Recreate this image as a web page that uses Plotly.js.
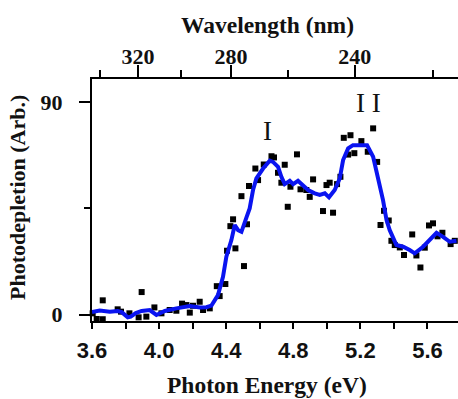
<!DOCTYPE html>
<html>
<head>
<meta charset="utf-8">
<script src="https://cdn.plot.ly/plotly-3.0.1.min.js"></script>
<style>html,body{margin:0;padding:0;background:#fff}#chart{width:458px;height:399px}</style>
</head>
<body>
<div id="chart"></div>
<script>
// measured points (photon energy in eV, photodepletion in arb. units)
const energy_eV = [3.604,3.628,3.664,3.664,3.753,3.773,3.823,3.878,3.896,3.924,3.972,4.014,4.063,4.103,4.137,4.163,4.183,4.202,4.242,4.262,4.302,4.344,4.361,4.395,4.405,4.425,4.441,4.455,4.491,4.506,4.524,4.536,4.574,4.590,4.624,4.670,4.685,4.709,4.729,4.749,4.767,4.783,4.822,4.843,4.878,4.898,4.918,4.977,4.998,5.017,5.037,5.061,5.081,5.101,5.127,5.141,5.164,5.206,5.244,5.276,5.300,5.320,5.341,5.369,5.385,5.405,5.435,5.460,5.509,5.534,5.558,5.584,5.609,5.633,5.660,5.689,5.738,5.763];
const photodepletion = [0.5,-1.9,6.0,-2.0,2.2,1.2,0.5,-1.2,9.5,-0.9,3.0,0.5,1.9,1.6,4.6,4.0,0.8,3.7,5.4,1.9,2.6,12.0,7.8,12.9,27.0,37.4,40.3,28.0,50.1,20.5,38.2,54.4,61.8,56.9,63.5,67.0,66.5,60.0,55.8,63.4,45.6,54.1,67.8,53.0,52.7,49.8,57.2,43.8,54.8,55.8,43.1,55.2,58.3,74.8,67.7,75.9,68.3,73.4,68.9,78.8,64.6,37.9,43.9,39.8,31.2,29.4,28.4,25.2,33.9,25.0,19.9,28.3,37.7,38.6,33.1,34.6,29.8,31.2];
// smoothed curve
const smooth_eV = [3.600,3.646,3.706,3.753,3.777,3.813,3.831,3.861,3.896,3.944,3.984,4.034,4.103,4.183,4.243,4.282,4.312,4.351,4.381,4.401,4.431,4.451,4.471,4.491,4.521,4.540,4.560,4.580,4.620,4.660,4.679,4.709,4.729,4.749,4.779,4.799,4.828,4.858,4.888,4.928,4.958,4.988,5.013,5.047,5.077,5.097,5.127,5.156,5.196,5.240,5.276,5.305,5.335,5.356,5.375,5.415,5.455,5.494,5.524,5.574,5.614,5.654,5.693,5.733,5.773];
const smooth_val = [1.1,1.7,1.2,1.5,1.0,-1.2,-0.9,0.6,1.5,1.9,-0.2,1.5,2.6,3.6,3.0,3.1,3.8,8.2,16.0,24.5,31.5,37.9,35.7,35.0,41.1,44.9,52.7,57.6,61.8,65.1,64.6,62.5,58.3,55.2,56.6,55.2,56.6,54.4,52.7,51.3,50.6,51.3,49.6,52.7,57.6,65.4,70.3,71.7,71.7,71.7,66.8,58.3,48.4,40.0,35.7,29.4,28.7,27.3,25.9,28.7,31.5,34.6,32.9,30.8,31.2];
// axis ticks
const wavelength_major = [320, 280, 240];
const wavelength_minor = [340, 300, 260, 220];
const yTicks = [0, 90];
const yMinor = [45];
const peakLabels = ["I", "I I"];
const peakLabel_eV = [4.649, 5.25];
const peakLabel_val = [77.5, 89.5];

const hc = 1239.84;
const xr = [3.6, 5.782];
const yr = [-2.75, 99.7];
const serif = "Liberation Serif, Times New Roman, serif";
const sans = "Liberation Sans, Arial, sans-serif";

const traces = [
  {x: energy_eV, y: photodepletion, mode: 'markers', type: 'scatter',
   marker: {symbol: 'square', size: 6, color: '#000'}, hoverinfo: 'skip', cliponaxis: false},
  {x: smooth_eV, y: smooth_val, mode: 'lines', type: 'scatter',
   line: {color: '#0a14f0', width: 4}, hoverinfo: 'skip'},
  {x: smooth_eV, y: smooth_val, xaxis: 'x2', mode: 'lines', type: 'scatter',
   line: {color: 'rgba(0,0,0,0)', width: 0}, hoverinfo: 'skip'}
];

const annotations = [
  {text: 'Wavelength (nm)', xref: 'paper', yref: 'paper', x: (267.5-92)/366, y: (321-25)/242,
   showarrow: false, xanchor: 'center', yanchor: 'middle', font: {family: serif, size: 23.5, weight: 'bold', color: '#111'}},
  {text: 'Photon Energy (eV)', xref: 'paper', yref: 'paper', x: (267-92)/366, y: (321-385)/242,
   showarrow: false, xanchor: 'center', yanchor: 'middle', font: {family: serif, size: 23.5, weight: 'bold', color: '#111'}},
  {text: 'Photodepletion (Arb.)', xref: 'paper', yref: 'paper', x: (17-92)/366, y: (321-198)/242, textangle: -90,
   showarrow: false, xanchor: 'center', yanchor: 'middle', font: {family: serif, size: 22, weight: 'bold', color: '#111'}}
];
peakLabels.forEach((t, i) => annotations.push({
  text: t, x: peakLabel_eV[i], y: peakLabel_val[i], xref: 'x', yref: 'y', showarrow: false,
  xanchor: 'center', yanchor: 'middle', font: {family: serif, size: 27, color: '#111'}
}));

const layout = {
  width: 458, height: 399,
  margin: {l: 92, r: 0, t: 79, b: 78},
  paper_bgcolor: '#fff', plot_bgcolor: '#fff',
  showlegend: false,
  xaxis: {range: xr, showgrid: false, zeroline: false, showline: true, linewidth: 2, linecolor: '#000',
    ticks: 'outside', ticklen: 6, tickwidth: 2, tickcolor: '#000', tick0: 3.6, dtick: 0.4, tickformat: '.1f',
    minor: {dtick: 0.2, tick0: 3.6, ticks: 'outside', ticklen: 6, tickwidth: 2, tickcolor: '#000'},
    tickfont: {family: sans, size: 22, weight: 'bold', color: '#111'}, ticklabelstandoff: 3},
  xaxis2: {range: xr, overlaying: 'x', side: 'top', anchor: 'y', showgrid: false, zeroline: false,
    showline: true, linewidth: 2, linecolor: '#000',
    tickmode: 'array', tickvals: wavelength_major.map(l => hc / l), ticktext: wavelength_major.map(String),
    ticks: 'outside', ticklen: 12, tickwidth: 2, tickcolor: '#000',
    minor: {tickmode: 'array', tickvals: wavelength_minor.map(l => hc / l), ticks: 'outside', ticklen: 7, tickwidth: 2, tickcolor: '#000'},
    tickfont: {family: serif, size: 22, weight: 'bold', color: '#111'}, ticklabelstandoff: -8},
  yaxis: {range: yr, showgrid: false, zeroline: false, showline: true, linewidth: 2, linecolor: '#000',
    tickmode: 'array', tickvals: yTicks, ticktext: yTicks.map(String),
    ticks: 'outside', ticklen: 11, tickwidth: 2, tickcolor: '#000',
    minor: {tickmode: 'array', tickvals: yMinor, ticks: 'outside', ticklen: 6, tickwidth: 2, tickcolor: '#000'},
    tickfont: {family: serif, size: 22, weight: 'bold', color: '#111'}, ticklabelstandoff: 12},
  annotations: annotations
};

Plotly.newPlot('chart', traces, layout, {staticPlot: true, displayModeBar: false});
</script>
</body>
</html>
